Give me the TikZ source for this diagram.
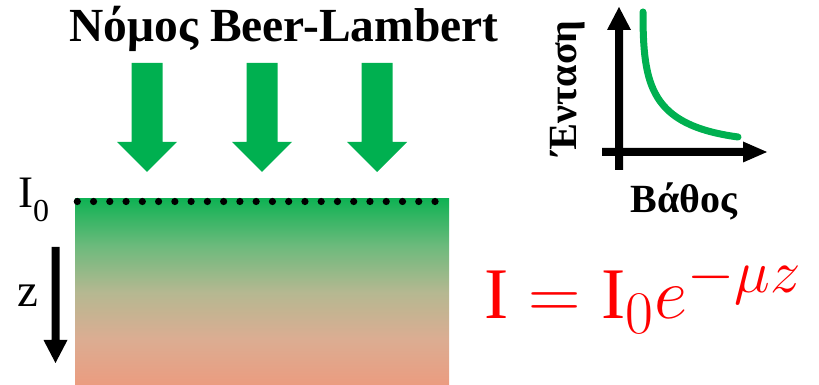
\documentclass[tikz,border=0pt]{standalone}
\usepackage{fontspec}
\setmainfont{Liberation Serif}
\definecolor{bgreen}{HTML}{00B050}
\definecolor{topg}{HTML}{10B254}
\definecolor{q1g}{HTML}{6CBA7C}
\definecolor{midg}{HTML}{B5B891}
\definecolor{q3g}{HTML}{DBAD92}
\definecolor{botg}{HTML}{EB9C80}
\pgfdeclareverticalshading{medshade}{100bp}{color(0bp)=(botg); color(25bp)=(botg); color(37.5bp)=(q3g); color(50bp)=(midg); color(62.5bp)=(q1g); color(75bp)=(topg); color(100bp)=(topg)}
\tikzset{
  blockarrow/.style={fill=bgreen, draw=none},
  bigtext/.style={font=\fontsize{47.5}{52}\selectfont\bfseries, inner sep=0pt},
  lbltext/.style={font=\fontsize{40}{44}\selectfont\bfseries, inner sep=0pt},
}
\begin{document}
\begin{tikzpicture}[x=1pt,y=1pt]
\useasboundingbox (0,0) rectangle (819,385);
% title
\node[bigtext, anchor=base] (title) at (284,343) {Νόμος Beer-Lambert};
% block arrows
\foreach \c/\n in {147/a1,262/a2,377/a3}{
  \fill[blockarrow] (\c-15.5,322) -- (\c+15.5,322) -- (\c+15.5,243) -- (\c+30,243)
     -- (\c,213) -- (\c-30,243) -- (\c-15.5,243) -- cycle;
}
% medium
\shade[shading=medshade] (75,0) rectangle (449,186);
\node[inner sep=0pt] (medium) at (262,93) {};
\foreach \i in {0,...,22}{
  \fill[black] (77.3+\i*16.26,183.5) circle (3.6);
}
% I0 label
\node[anchor=base west, inner sep=0pt, font=\fontsize{45}{50}\selectfont] (I0) at (18,177) {I\raisebox{-14pt}{\fontsize{32}{34}\selectfont 0}};
% z label and arrow
\node[anchor=base west, inner sep=0pt, font=\fontsize{47}{50}\selectfont] (zl) at (17,78) {z};
\fill[black] (51.5,138) -- (59.5,138) -- (59.5,45) -- (67.5,45) -- (55.5,22) -- (43.5,45) -- (51.5,45) -- cycle;
% formula
\node[anchor=base west, inner sep=0pt, text=red, scale=2.92] (formula) at (484,66)
  {\Huge $\mathrm{I} = \mathrm{I}_0 e^{-\mu z}$};
% graph axes
\fill[black] (615,215) -- (623,215) -- (623,355) -- (631,355) -- (619,378) -- (607,355) -- (615,355) -- cycle;
\fill[black] (602,229) -- (743,229) -- (743,222.5) -- (767,233) -- (743,243.5) -- (743,237) -- (602,237) -- cycle;
% curve
\draw[bgreen, line width=7pt, line cap=round] (643,373) .. controls (643,300) and (650,260) .. (738,248);
% labels
\node[lbltext, anchor=base] (xl) at (684,172) {Βάθος};
\node[lbltext, anchor=base, rotate=90] (yl) at (576,297) {Ένταση};
\end{tikzpicture}
\end{document}
